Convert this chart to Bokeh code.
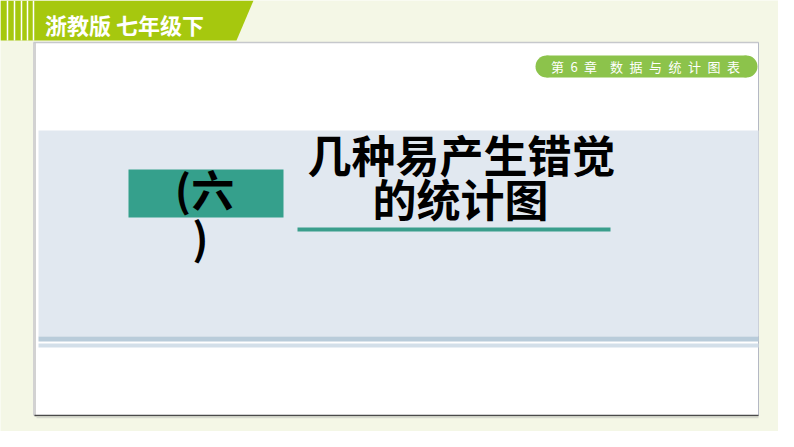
from bokeh.plotting import figure
from bokeh.models import Range1d
from bokeh.core.properties import value
from bokeh.embed import file_html
from bokeh.resources import INLINE

# ---- slide content (texts) ----
header_text = ["浙教版 七年级下"]
chapter_text = ["第\u20026\u2002章\u2002\u2002数\u2002据\u2002与\u2002统\u2002计\u2002图\u2002表"]
section_lines = ["(六", ")"]
title_lines = ["几种易产生错觉", "的统计图"]

# ---- colours ----
CREAM = "#F4F7E6"
LIME = "#A6C80E"
PILL = "#8CC34B"
BLUE = "#E1E8F0"
TEAL = "#35A08C"

PW, PH = 778, 431
FONT = value("Noto Sans CJK SC")

p = figure(width=PW, height=PH, output_backend="svg", toolbar_location=None,
           x_range=Range1d(0, PW), y_range=Range1d(PH, 0), min_border=0)
p.axis.visible = False
p.grid.visible = False
p.outline_line_color = None
p.background_fill_color = CREAM
p.border_fill_color = CREAM

# white content panel
p.quad(left=[34], right=[758], top=[42], bottom=[415], fill_color="white",
       line_color="#B4B8C4", line_width=1)
p.segment(x0=[34], y0=[42], x1=[34], y1=[415], line_color="#D2D2D2", line_width=3)
p.segment(x0=[33], y0=[42], x1=[758], y1=[42], line_color="#C6C8CC", line_width=1.5)
p.segment(x0=[34], y0=[415], x1=[758], y1=[415], line_color="#4A4A4A", line_width=1.5)
p.segment(x0=[36], y0=[417], x1=[758], y1=[417], line_color="#D8DAD0", line_width=1.5)

# light-blue title band
p.quad(left=[38], right=[758], top=[130], bottom=[336], fill_color=BLUE, line_color=None)
p.quad(left=[38], right=[758], top=[336], bottom=[341], fill_color="#B9CCDA", line_color=None)
p.quad(left=[38], right=[758], top=[343], bottom=[347], fill_color="#D3DFE9", line_color=None)

# teal section box and underline
p.quad(left=[128], right=[283], top=[169], bottom=[217], fill_color=TEAL, line_color=None)
p.segment(x0=[297], y0=[229], x1=[610], y1=[229], line_color="#3A9E8C", line_width=4)

p.text(x=[204, 200], y=[187, 235], text=section_lines, text_font=FONT,
       text_font_style="bold", text_font_size="43px", text_color="black",
       text_align="center", text_baseline="middle")
p.text(x=[461, 460], y=[153, 197], text=title_lines, text_font=FONT,
       text_font_style="bold", text_font_size="44px", text_color="black",
       text_align="center", text_baseline="middle")

# top lime header band
p.patch(x=[0, 253, 236, 0], y=[0, 0, 40, 40], fill_color=LIME, line_color=None)
p.segment(x0=[7, 14, 21, 27, 33], y0=[0] * 5, x1=[7, 14, 21, 27, 33], y1=[40] * 5,
          line_color="white", line_width=1.5)
p.text(x=[124], y=[23], text=header_text, text_font=FONT, text_font_style="bold",
       text_font_size="22px", text_color="white",
       text_align="center", text_baseline="middle")

# chapter pill
p.quad(left=[546], right=[746], top=[55], bottom=[77], fill_color=PILL, line_color=None)
p.ellipse(x=[546, 746], y=[66, 66], width=22, height=22, fill_color=PILL, line_color=None)
p.text(x=[645], y=[66], text=chapter_text, text_font=FONT,
       text_font_size="13px", text_color="white",
       text_align="center", text_baseline="middle")

open("out.html", "w").write(file_html(p, INLINE))
